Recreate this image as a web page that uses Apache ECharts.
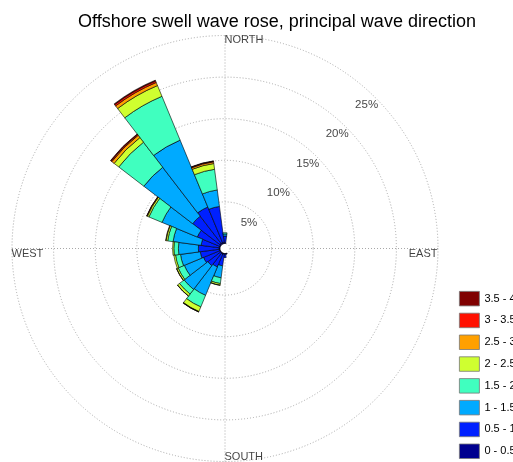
<!DOCTYPE html>
<html>
<head>
<meta charset="utf-8">
<script src="https://cdn.jsdelivr.net/npm/echarts@6/dist/echarts.min.js"></script>
<style>
  html, body { margin: 0; padding: 0; background: #ffffff; }
  #main { width: 513px; height: 462px; }
</style>
</head>
<body>
<div id="main"></div>
<script>
// Direction sectors (degrees, clockwise from north), 15° bins
const directions = ['0','15','30','45','60','75','90','105','120','135','150','165',
                    '180','195','210','225','240','255','270','285','300','315','330','345'];

// Wave height classes (m)
const bandNames = ['0 - 0.5','0.5 - 1','1 - 1.5','1.5 - 2','2 - 2.5','2.5 - 3','3 - 3.5','3.5 - 4'];

// Occurrence (%) per direction for each height class
const h00_05 = [0.1,0,0,0,0,0,0,0,0,0,0,0.05,0.1,0.1,0.1,0.1,0.1,0.1,0.1,0.1,0.1,0.2,0.2,0.15];
const h05_10 = [0.8,0,0,0,0,0,0,0,0,0,0,0.05,0.4,1.4,1.7,1.9,2.1,2.3,2.5,2.2,2.9,4.1,4.6,4.35];
const h10_15 = [0.25,0,0,0,0,0,0,0,0,0,0,0,0,1.45,3.7,3.6,2.5,2.4,2.4,3.4,4.6,7.4,8.7,2.0];
const h15_20 = [0.15,0,0,0,0,0,0,0,0,0,0,0,0,0.7,1.5,0.7,0.8,0.6,0.55,0.65,1.7,3.8,5.7,2.5];
const h20_25 = [0,0,0,0,0,0,0,0,0,0,0,0,0,0.2,0.6,0.3,0.2,0.2,0.15,0.2,0.2,0.7,1.4,0.7];
const h25_30 = [0,0,0,0,0,0,0,0,0,0,0,0,0,0.02,0.05,0.02,0.02,0,0,0.05,0.08,0.35,0.4,0.2];
const h30_35 = [0,0,0,0,0,0,0,0,0,0,0,0,0,0,0.02,0,0,0,0,0,0.02,0.13,0.2,0.08];
const h35_40 = [0,0,0,0,0,0,0,0,0,0,0,0,0,0,0,0,0,0,0,0,0,0.07,0.1,0.04];

const bandValues = [h00_05, h05_10, h10_15, h15_20, h20_25, h25_30, h30_35, h35_40];
const bandColors = ['#00008f','#0020ff','#00aaff','#40ffbf','#cfff30','#ffa000','#ff1000','#800000'];

// Radial scale (%)
const radiusTicks = [5, 10, 15, 20, 25];
const radiusTickLabels = ['5%', '10%', '15%', '20%', '25%'];

// Compass point captions
const compassNames = ['NORTH', 'EAST', 'SOUTH', 'WEST'];
const compassDirections = ['0', '90', '180', '270'];

const chart = echarts.init(document.getElementById('main'), null, { renderer: 'canvas' });

const gridLine = { color: '#a8a8a8', type: [1, 2], width: 1 };
const center = [225, 248.5];
const radius = [5, 213];
const fontFamily = 'Liberation Sans, Arial, sans-serif';

const barSeries = bandNames.map((name, i) => ({
  type: 'bar',
  name: name,
  coordinateSystem: 'polar',
  polarIndex: 0,
  stack: 'rose',
  barCategoryGap: '0%',
  silent: true,
  itemStyle: { color: bandColors[i], borderColor: '#000', borderWidth: 0.6 },
  data: bandValues[i].map(v => (v === 0 ? '-' : v))
}));

const compassAlign = {
  NORTH: { align: 'left', verticalAlign: 'top', position: [0, -1] },
  EAST: { align: 'right', verticalAlign: 'top', position: [0, 0] },
  SOUTH: { align: 'left', verticalAlign: 'bottom', position: [0, 1] },
  WEST: { align: 'left', verticalAlign: 'top', position: [0, 0] }
};

const option = {
  animation: false,
  backgroundColor: '#ffffff',
  title: {
    text: 'Offshore swell wave rose, principal wave direction',
    left: 272,
    textAlign: 'center',
    top: 8,
    textStyle: { fontFamily: fontFamily, fontSize: 18, fontWeight: 'normal', color: '#000' }
  },
  legend: {
    data: bandNames.slice().reverse(),
    orient: 'vertical',
    left: 459,
    top: 291,
    padding: 0,
    height: 200,
    itemWidth: 20,
    itemHeight: 14.5,
    itemGap: 6.5,
    icon: 'rect',
    selectedMode: false,
    itemStyle: { borderColor: '#777', borderWidth: 0.8 },
    textStyle: { fontFamily: fontFamily, fontSize: 11, lineHeight: 14, color: '#000' }
  },
  polar: [
    { center: center, radius: radius },
    { center: center, radius: radius }
  ],
  angleAxis: [
    {
      polarIndex: 0,
      type: 'category',
      data: directions,
      startAngle: 97.5,
      clockwise: true,
      boundaryGap: true,
      axisLine: { show: false },
      axisTick: { show: false },
      axisLabel: { show: false },
      splitLine: { show: false }
    },
    {
      polarIndex: 1,
      type: 'value',
      min: 0,
      max: 360,
      interval: 90,
      startAngle: 90,
      clockwise: true,
      axisLine: { show: false },
      axisTick: { show: false },
      axisLabel: { show: false },
      splitLine: { show: true, lineStyle: gridLine }
    }
  ],
  radiusAxis: [
    {
      polarIndex: 0,
      min: 0,
      max: 25,
      interval: 5,
      axisLine: { show: false },
      axisTick: { show: false },
      axisLabel: { show: false },
      splitLine: { show: true, lineStyle: gridLine }
    },
    {
      polarIndex: 1,
      min: 0,
      max: 25,
      interval: 5,
      axisLine: { show: false },
      axisTick: { show: false },
      axisLabel: { show: false },
      splitLine: { show: false }
    }
  ],
  series: barSeries.concat([
    {
      type: 'scatter',
      coordinateSystem: 'polar',
      polarIndex: 0,
      silent: true,
      symbolSize: 1,
      itemStyle: { color: 'rgba(0,0,0,0)' },
      label: {
        show: true,
        position: 'inside',
        offset: [-9, 7],
        formatter: p => radiusTickLabels[p.dataIndex],
        fontFamily: fontFamily,
        fontSize: 11.5,
        color: '#111'
      },
      data: radiusTicks.map(v => [v, directions.indexOf('45')])
    },
    {
      type: 'scatter',
      coordinateSystem: 'polar',
      polarIndex: 0,
      silent: true,
      symbolSize: 1,
      itemStyle: { color: 'rgba(0,0,0,0)' },
      data: compassNames.map((name, i) => ({
        value: [radiusTicks[radiusTicks.length - 1], directions.indexOf(compassDirections[i])],
        label: Object.assign({
          show: true,
          formatter: name,
          fontFamily: fontFamily,
          fontSize: 11,
          color: '#111'
        }, compassAlign[name])
      }))
    }
  ])
};

chart.setOption(option);
</script>
</body>
</html>
